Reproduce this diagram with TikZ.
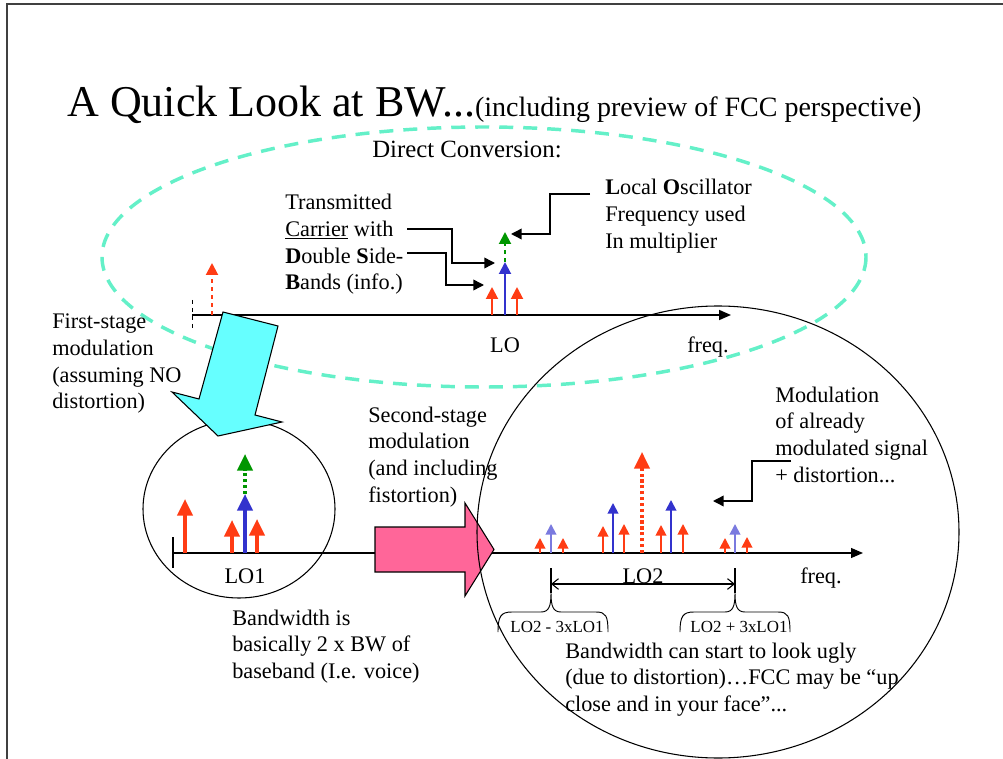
\documentclass[tikz,border=0pt]{standalone}
\usepackage{fontspec}
\setmainfont{Liberation Serif}
\usetikzlibrary{arrows.meta}
\definecolor{spkred}{RGB}{255,60,20}
\definecolor{spkblue}{RGB}{50,50,205}
\definecolor{spkgreen}{RGB}{0,150,0}
\definecolor{aqua}{RGB}{100,240,200}
\definecolor{cyanarrow}{RGB}{102,255,255}
\definecolor{pinkarrow}{RGB}{255,102,153}
\newcommand\mlines[1]{\begin{tabular}[t]{@{}l@{}}#1\end{tabular}}
\begin{document}
\begin{tikzpicture}[x=0.75pt,y=-0.75pt,
  txt/.style={font=\fontsize{16.7}{20}\selectfont, inner sep=0pt, anchor=base west},
  lbl/.style={font=\fontsize{16.7}{20}\selectfont, inner sep=0pt, anchor=base},
  small/.style={font=\fontsize{12.7}{15}\selectfont, inner sep=0pt, anchor=base},
  axis/.style={black, line width=#1, -{Triangle[width=7.5pt,length=9pt]}},
  callout/.style={black, line width=1.1pt, -{Triangle[width=8pt,length=8pt]}},
  topspike/.style={line width=1.5pt, -{Triangle[width=9pt,length=9pt]}},
  bigspike/.style={line width=2.5pt, -{Triangle[width=11.5pt,length=12.5pt]}},
  tinyspike/.style={line width=1.4pt, -{Triangle[width=8pt,length=8pt]}},
  brace/.style={black, line width=0.7pt}
]
\useasboundingbox (0,0) rectangle (1003,759);
% slide frame
\draw[black!75, line width=1pt] (7,759) -- (7,4) -- (1003,4);

% title
\node[anchor=base west, inner sep=0pt, font=\fontsize{33}{38}\selectfont] (title) at (67,117)
  {A Quick Look at BW...{\fontsize{21}{24}\selectfont(including preview of FCC perspective)}};

% dashed ellipse (direct conversion)
\draw[aqua, line width=2.6pt, dash pattern=on 10.5pt off 7.5pt] (484,257) ellipse [x radius=382, y radius=130];

\node[txt, font=\fontsize{18.6}{20}\selectfont] (dc) at (372,158) {Direct Conversion:};

% top axis
\draw[black, line width=0.7pt, dashed] (192,300) -- (192,332);
\draw[axis=1.3pt] (192,315) -- (731,315);
\draw[topspike, spkred, dashed] (212,315) -- (212,263);
\draw[topspike, spkred] (492,315) -- (492,287);
\draw[topspike, spkred] (517,315) -- (517,287);
\draw[topspike, spkblue] (505,315) -- (505,262);
\draw[topspike, spkgreen, dashed] (505,262) -- (505,232);
\node[lbl] (lo) at (505,352) {LO};
\node[txt] (freq1) at (687,352) {freq.};

% callout texts
\node[txt] (tx) at (285,210) {\mlines{Transmitted\\\underline{Carrier} with\\\textbf{D}ouble \textbf{S}ide-\\\textbf{B}ands (info.)}};
\node[txt] (losc) at (605,195) {\mlines{\textbf{L}ocal \textbf{O}scillator\\Frequency used\\In multiplier}};
\coordinate (c1s) at (407,229);
\coordinate (c1t) at (495,263);
\coordinate (c2s) at (407,253);
\coordinate (c2t) at (484,285);
\coordinate (c3s) at (590,194);
\coordinate (c3t) at (511,234);
\draw[callout] (c1s) -- (452,229) |- (c1t);
\draw[callout] (c2s) -- (446,253) |- (c2t);
\draw[callout] (c3s) -- (550,194) |- (c3t);

% left circle
\draw[black, line width=0.8pt] (239,509) ellipse [x radius=96, y radius=89];

% cyan arrow
\draw[black, line width=0.8pt, fill=cyanarrow] (223,312) -- (278,326) -- (255,415) -- (282,422) -- (218,436) -- (172,392) -- (199,399) -- cycle;

\node[txt] (first) at (52,329) {\mlines{First-stage\\modulation\\(assuming NO\\distortion)}};

% lower axis
\draw[black, line width=0.8pt] (173,537) -- (173,568);
\draw[axis=0.9pt] (173,553) -- (863,553);

% left circle spikes
\draw[bigspike, spkred] (185,553) -- (185,499);
\draw[bigspike, spkred] (232,553) -- (232,520);
\draw[bigspike, spkred] (257,553) -- (257,519);
\draw[bigspike, spkblue] (245,553) -- (245,494);
\draw[bigspike, spkgreen, dotted] (245,494) -- (245,454);
\node[lbl] (lo1) at (245,583) {LO1};

% pink arrow
\draw[black, line width=0.8pt, fill=pinkarrow] (375,527) -- (465,527) -- (465,503) -- (494,549.5) -- (465,596) -- (465,572) -- (375,572) -- cycle;

\node[txt] (second) at (368,422) {\mlines{Second-stage\\modulation\\(and including\\fistortion)}};

% big circle
\draw[black, line width=0.8pt] (718,532) ellipse [x radius=241, y radius=226];

% right spikes
\draw[tinyspike, spkred] (540,553) -- (540,538);
\draw[tinyspike, spkblue!65] (551,553) -- (551,524);
\draw[tinyspike, spkred] (563,553) -- (563,538);
\draw[tinyspike, spkred] (603,553) -- (603,526);
\draw[tinyspike, spkblue] (613,553) -- (613,503);
\draw[tinyspike, spkred] (624,553) -- (624,524);
\draw[line width=2.4pt, spkred, dotted, -{Triangle[width=11.5pt,length=12.5pt]}] (642,553) -- (642,452);
\draw[tinyspike, spkred] (661,553) -- (661,525);
\draw[tinyspike, spkblue] (671,553) -- (671,500);
\draw[tinyspike, spkred] (683,553) -- (683,524);
\draw[tinyspike, spkred] (725,553) -- (725,538);
\draw[tinyspike, spkblue!65] (735,553) -- (735,524);
\draw[tinyspike, spkred] (747,553) -- (747,537);

% LO2 dimension
\draw[black, line width=0.8pt] (551,568) -- (551,593);
\draw[black, line width=0.8pt] (735,568) -- (735,593);
\coordinate (dl) at (551,584);
\coordinate (dr) at (735,584);
\draw[black, line width=0.8pt, {Straight Barb[length=5pt,width=8pt]}-{Straight Barb[length=5pt,width=8pt]}] (dl) -- (dr);
\node[lbl] (lo2) at (643,583) {LO2};
\node[txt] (freq2) at (800,583) {freq.};

% braces
\draw[brace] (498,632) .. controls (498,616) and (501,612) .. (512,612) -- (541,612) .. controls (549,612) and (551,606) .. (551,593) .. controls (551,606) and (553,612) .. (561,612) -- (596,612) .. controls (606,612) and (608,616) .. (608,632);
\draw[brace] (680,632) .. controls (680,616) and (683,612) .. (694,612) -- (725,612) .. controls (733,612) and (735,606) .. (735,593) .. controls (735,606) and (737,612) .. (745,612) -- (778,612) .. controls (788,612) and (790,616) .. (790,632);
\node[small] (m3) at (557,632) {LO2 - 3xLO1};
\node[small] (p3) at (739,632) {LO2 + 3xLO1};

% modulation callout
\node[txt] (modtxt) at (775,402) {\mlines{Modulation\\of already\\modulated signal\\+ distortion...}};
\coordinate (c4s) at (791,461);
\coordinate (c4t) at (713,501);
\draw[callout] (c4s) -- (752,461) |- (c4t);

% bottom texts
\node[txt] (bw1) at (232,625) {\mlines{Bandwidth is\\basically 2 x BW of\\baseband (I.e. voice)}};
\node[txt] (bw2) at (565,658) {\mlines{Bandwidth can start to look ugly\\(due to distortion)…FCC may be “up\\close and in your face”...}};
\end{tikzpicture}
\end{document}
